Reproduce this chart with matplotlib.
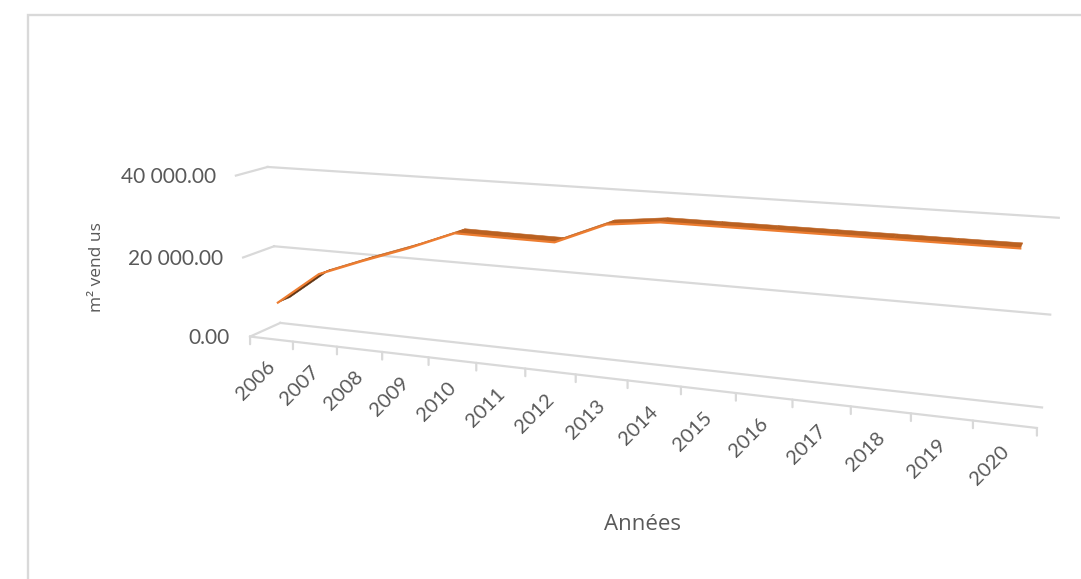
import numpy as np
import matplotlib
matplotlib.use("Agg")
import matplotlib.pyplot as plt
from matplotlib.transforms import Transform

years = [2006, 2007, 2008, 2009, 2010, 2011, 2012, 2013, 2014, 2015, 2016, 2017, 2018, 2019, 2020]
m2_vendus = [8250, 16500, 20750, 24750, 29250, 29100, 29000, 33900, 35250, 35250, 35250, 35250, 35250, 35250, 35250]
value_ticks = [0, 20000, 40000]
value_labels = ["0.00", "20 000.00", "40 000.00"]
y_title = "m² vend us"
x_title = "Années"

GRID = "#D9D9D9"
TEXT = "#595959"
ORANGE = "#ED7D31"
TOP = "#BA6121"
UNDER = "#5E3312"
FONT = "Lato"
TITLE_FONT = "Open Sans"
VMAX = 40000.0
N = len(years)

# Perspective calibration of the Excel-like 3-D box: (category, value, depth) -> pixel
calib = [
    (0, 0, 0, 250, 336.5), (15, 0, 0, 1037, 427.5), (7, 0, 0, 575.7, 375),
    (0, 0, 1, 281, 323), (15, 0, 1, 1042, 408),
    (0, 20000, 0, 243, 257), (0, 20000, 1, 273, 246), (15, 20000, 1, 1050, 314),
    (0, 40000, 0, 236, 176), (0, 40000, 1, 268, 167), (15, 40000, 1, 1059, 218),
]
A, b = [], []
for t, v, d, px, py in calib:
    X = [t / N, v / VMAX, d, 1.0]
    A.append(X + [0, 0, 0, 0] + [-px * X[0], -px * X[1], -px * X[2]])
    A.append([0, 0, 0, 0] + X + [-py * X[0], -py * X[1], -py * X[2]])
    b += [px, py]
sol = np.linalg.lstsq(np.array(A, float), np.array(b, float), rcond=None)[0]
P = np.append(sol, 1.0).reshape(3, 4)


class BoxProjection(Transform):
    input_dims = 2
    output_dims = 2

    def __init__(self, box_depth):
        super().__init__()
        self.box_depth = box_depth

    def transform_non_affine(self, values):
        values = np.asarray(values, float)
        X = np.column_stack([values[:, 0] / N, values[:, 1] / VMAX,
                             np.full(len(values), self.box_depth), np.ones(len(values))])
        h = X @ P.T
        return h[:, :2] / h[:, 2:3]


fig = plt.figure(figsize=(10.81, 5.79), dpi=100, facecolor="white")
ax = fig.add_axes([0, 0, 1, 1])
ax.set_xlim(0, 1081)
ax.set_ylim(579, 0)
ax.autoscale(False)
ax.axis("off")

# Chart frame
ax.plot([28, 28, 1081], [579, 15, 15], color=GRID, lw=1.7, solid_joinstyle="miter")

front = BoxProjection(0.0) + ax.transData
back = BoxProjection(1.0) + ax.transData
LW = 1.6

# Grid lines and side stubs
for v in value_ticks:
    ax.plot([0, 15], [v, v], transform=back, color=GRID, lw=LW)
    sx, sy = BoxProjection(0.0).transform(np.array([[0.0, v]]))[0]
    bx, by = BoxProjection(1.0).transform(np.array([[0.0, v]]))[0]
    ax.plot([sx, bx], [sy, by], color=GRID, lw=LW)

# Front axis and ticks
ax.plot([0, 15], [0, 0], transform=front, color=GRID, lw=LW)
for i in range(N + 1):
    ax.annotate("", xy=(i, 0), xycoords=front, xytext=(0, -5.5), textcoords="offset points",
                arrowprops=dict(arrowstyle="-", color=GRID, lw=LW, shrinkA=0, shrinkB=0))

# Ribbon
centers = np.arange(N) + 0.5
values = np.array(m2_vendus, float)
D0, D1 = 0.30, 0.70
proj0, proj1 = BoxProjection(D0), BoxProjection(D1)
near = proj0.transform(np.column_stack([centers, values]))
far = proj1.transform(np.column_stack([centers, values]))
for i in range(N - 1):
    poly = np.array([near[i], near[i + 1], far[i + 1], far[i]])
    x, y = poly[:, 0], poly[:, 1]
    area = 0.5 * np.sum(x * np.roll(y, -1) - np.roll(x, -1) * y)
    ax.fill(x, y, color=TOP if area < 0 else UNDER, lw=0.4, zorder=3)
ax.plot(centers, values, transform=proj0 + ax.transData, color=ORANGE, lw=1.6, zorder=4,
        solid_joinstyle="round")

# Value labels
for v, s in zip(value_ticks, value_labels):
    ax.annotate(s, xy=(0, v), xycoords=front, xytext=(-14.5, -1), textcoords="offset points",
                ha="right", va="center", color=TEXT, fontsize=15, family=FONT)

# Year labels
for c, yr in zip(centers, years):
    ax.annotate(str(yr), xy=(c, 0), xycoords=front, xytext=(-11, -30), textcoords="offset points",
                ha="center", va="center", rotation=45, rotation_mode="anchor",
                color=TEXT, fontsize=14.5, family=FONT)

ax.text(97, 267, y_title, rotation=90, ha="center", va="center", color=TEXT, fontsize=12.5, family=TITLE_FONT)
ax.text(642, 524, x_title, ha="center", va="center", color=TEXT, fontsize=16, family=TITLE_FONT)

fig.savefig("out.png", dpi=100)
